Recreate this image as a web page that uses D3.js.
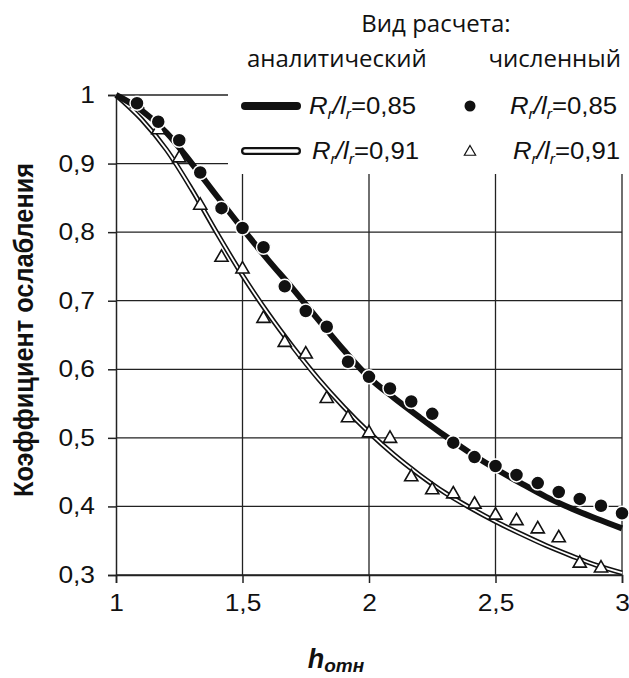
<!DOCTYPE html>
<html>
<head>
<meta charset="utf-8">
<script src="https://cdn.jsdelivr.net/npm/d3@7"></script>
<style>
  body { margin: 0; background: #fff; }
  text { font-family: "Liberation Sans", Arial, sans-serif; fill: #111; }
</style>
</head>
<body>
<div id="chart"></div>
<script>
var width = 629;
var height = 678;

// analytical curves
var lineX = [1, 1.1, 1.2, 1.3, 1.4, 1.5, 1.6, 1.7, 1.8, 1.9, 2, 2.1, 2.2, 2.3, 2.4, 2.5, 2.6, 2.7, 2.8, 2.9, 3];
var line85 = [1, 0.978, 0.945, 0.9, 0.852, 0.805, 0.76, 0.717, 0.672, 0.628, 0.588, 0.558, 0.53, 0.503, 0.478, 0.455, 0.434, 0.414, 0.397, 0.382, 0.368];
var line91 = [1, 0.965, 0.92, 0.862, 0.798, 0.737, 0.682, 0.632, 0.586, 0.545, 0.508, 0.475, 0.446, 0.42, 0.398, 0.378, 0.36, 0.343, 0.328, 0.314, 0.303];

// numerical points
var pointX = [1.083, 1.167, 1.25, 1.333, 1.417, 1.5, 1.583, 1.667, 1.75, 1.833, 1.917, 2, 2.083, 2.167, 2.25, 2.333, 2.417, 2.5, 2.583, 2.667, 2.75, 2.833, 2.917, 3];
var dots85 = [0.988, 0.961, 0.934, 0.887, 0.835, 0.806, 0.778, 0.721, 0.685, 0.662, 0.611, 0.589, 0.572, 0.553, 0.535, 0.493, 0.472, 0.459, 0.446, 0.434, 0.421, 0.411, 0.401, 0.39];
var tri91 = [0.987, 0.949, 0.908, 0.839, 0.763, 0.746, 0.674, 0.639, 0.622, 0.557, 0.529, 0.507, 0.499, 0.443, 0.424, 0.418, 0.403, 0.387, 0.379, 0.367, 0.354, 0.317, 0.31];

var xTicks = [1, 1.5, 2, 2.5, 3];
var yTicks = [0.3, 0.4, 0.5, 0.6, 0.7, 0.8, 0.9, 1];

var ru = d3.formatLocale({ decimal: ",", thousands: " ", grouping: [3], currency: ["", ""] });
var fmt = ru.format(".1~f");

// the original picture is a little wider than tall, stretch the glyphs to match
function stretch(sel, k) {
  sel.each(function() {
    var w = this.getComputedTextLength();
    d3.select(this).attr("textLength", w * k).attr("lengthAdjust", "spacingAndGlyphs");
  });
}

var svg = d3.select("#chart").append("svg")
  .attr("width", width)
  .attr("height", height);

var x = d3.scaleLinear().domain([1, 3]).range([116, 622]);
var y = d3.scaleLinear().domain([0.3, 1]).range([575, 95]);

// grid
svg.append("g").selectAll("line.h")
  .data(yTicks)
  .enter().append("line")
  .attr("x1", x(1)).attr("x2", x(3))
  .attr("y1", function(d) { return y(d); })
  .attr("y2", function(d) { return y(d); })
  .attr("stroke", "#222").attr("stroke-width", 1.3);

svg.append("g").selectAll("line.v")
  .data(xTicks.slice(1))
  .enter().append("line")
  .attr("x1", function(d) { return x(d); })
  .attr("x2", function(d) { return x(d); })
  .attr("y1", y(1)).attr("y2", y(0.3))
  .attr("stroke", "#222").attr("stroke-width", 1.3);

// legend background hides grid in the upper right corner
svg.append("rect")
  .attr("x", 228).attr("y", 0)
  .attr("width", width - 228).attr("height", 174)
  .attr("fill", "#fff");

// axes
var yAxis = svg.append("g")
  .attr("transform", "translate(" + x(1) + ",0)")
  .call(d3.axisLeft(y).tickValues(yTicks).tickFormat(fmt).tickSize(8).tickPadding(13));
var xAxis = svg.append("g")
  .attr("transform", "translate(0," + y(0.3) + ")")
  .call(d3.axisBottom(x).tickValues(xTicks).tickFormat(fmt).tickSize(8).tickPadding(11));

[yAxis, xAxis].forEach(function(a) {
  a.selectAll("path, line").attr("stroke", "#222").attr("stroke-width", 1.5);
  a.selectAll("text")
    .style("font-family", "'Liberation Sans', Arial, sans-serif")
    .style("font-size", "23.5px")
    .attr("fill", "#111")
    .call(stretch, 1.12);
});

// curves
var line = d3.line()
  .x(function(d, i) { return x(lineX[i]); })
  .y(function(d) { return y(d); })
  .curve(d3.curveMonotoneX);

svg.append("path").datum(line91)
  .attr("d", line).attr("fill", "none")
  .attr("stroke", "#111").attr("stroke-width", 5);
svg.append("path").datum(line91)
  .attr("d", line).attr("fill", "none")
  .attr("stroke", "#fff").attr("stroke-width", 1.8);

svg.append("path").datum(line85)
  .attr("d", line).attr("fill", "none")
  .attr("stroke", "#111").attr("stroke-width", 6);

var tri = d3.symbol().type(d3.symbolTriangle).size(75);

svg.append("g").selectAll("path")
  .data(tri91)
  .enter().append("path")
  .attr("d", tri)
  .attr("transform", function(d, i) {
    return "translate(" + x(pointX[i]) + "," + y(d) + ")";
  })
  .attr("fill", "#fff").attr("stroke", "#111").attr("stroke-width", 1.6);

svg.append("g").selectAll("circle")
  .data(dots85)
  .enter().append("circle")
  .attr("cx", function(d, i) { return x(pointX[i]); })
  .attr("cy", function(d) { return y(d); })
  .attr("r", 7)
  .attr("fill", "#111").attr("stroke", "#fff").attr("stroke-width", 1.5);

// axis titles
svg.append("text")
  .attr("transform", "translate(33,330) rotate(-90)")
  .attr("text-anchor", "middle")
  .style("font-size", "27px")
  .style("font-weight", "bold")
  .attr("textLength", 334)
  .attr("lengthAdjust", "spacingAndGlyphs")
  .text("Коэффициент ослабления");

var xt = svg.append("text")
  .attr("x", 336).attr("y", 668)
  .attr("text-anchor", "middle")
  .style("font-weight", "bold")
  .style("font-style", "italic");
xt.append("tspan").style("font-size", "27px").text("h");
xt.append("tspan").style("font-size", "19px").attr("dy", 4).text("отн");

// legend
var legendFont = "'Open Sans', 'Liberation Sans', sans-serif";
svg.append("text")
  .attr("x", 436).attr("y", 32)
  .attr("text-anchor", "middle")
  .style("font-family", legendFont)
  .style("font-size", "24px")
  .text("Вид расчета:");
svg.append("text")
  .attr("x", 247).attr("y", 67)
  .style("font-family", legendFont)
  .style("font-size", "24px")
  .text("аналитический");
svg.append("text")
  .attr("x", 621).attr("y", 67)
  .attr("text-anchor", "end")
  .style("font-family", legendFont)
  .style("font-size", "24px")
  .text("численный");

function ratioLabel(xPos, yPos, value) {
  var t = svg.append("text")
    .attr("x", xPos).attr("y", yPos)
    .style("font-size", "23px");
  t.append("tspan").style("font-style", "italic").text("R");
  t.append("tspan").style("font-style", "italic").style("font-size", "14px").attr("dy", 5).text("r");
  t.append("tspan").style("font-style", "italic").attr("dy", -5).text("/l");
  t.append("tspan").style("font-style", "italic").style("font-size", "14px").attr("dy", 5).text("r");
  t.append("tspan").attr("dy", -5).text("=" + value);
  t.call(stretch, 1.12);
}

var row1 = 106, row2 = 151;

svg.append("line")
  .attr("x1", 245).attr("x2", 297)
  .attr("y1", row1).attr("y2", row1)
  .attr("stroke", "#111").attr("stroke-width", 8).attr("stroke-linecap", "round");
svg.append("line")
  .attr("x1", 245).attr("x2", 297)
  .attr("y1", row2).attr("y2", row2)
  .attr("stroke", "#111").attr("stroke-width", 8).attr("stroke-linecap", "round");
svg.append("line")
  .attr("x1", 245).attr("x2", 297)
  .attr("y1", row2).attr("y2", row2)
  .attr("stroke", "#fff").attr("stroke-width", 3.5).attr("stroke-linecap", "round");

ratioLabel(309, row1 + 8, "0,85");
ratioLabel(312, row2 + 8, "0,91");

svg.append("circle")
  .attr("cx", 470).attr("cy", row1)
  .attr("r", 5.5).attr("fill", "#111");
svg.append("path")
  .attr("d", d3.symbol().type(d3.symbolTriangle).size(55))
  .attr("transform", "translate(470," + (row2 + 1) + ")")
  .attr("fill", "#fff").attr("stroke", "#111").attr("stroke-width", 1.2);

ratioLabel(510, row1 + 8, "0,85");
ratioLabel(513, row2 + 8, "0,91");
</script>
</body>
</html>
